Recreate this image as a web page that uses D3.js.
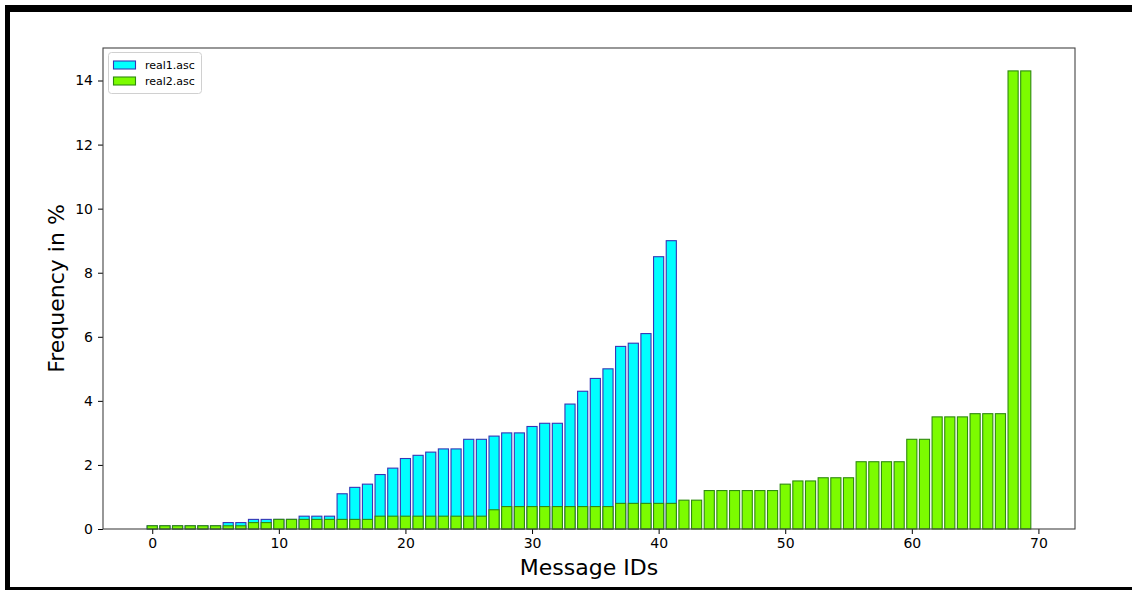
<!DOCTYPE html>
<html><head><meta charset="utf-8">
<script src="https://cdn.jsdelivr.net/npm/d3@7"></script>
<style>
html,body{margin:0;padding:0;background:#fff;}
svg{display:block;font-family:"DejaVu Sans",sans-serif;}
</style></head>
<body>
<svg id="chart" width="1132" height="590"></svg>
<script>
const real1Values = [0.1,0.1,0.1,0.1,0.1,0.1,0.2,0.2,0.3,0.3,0.3,0.3,0.4,0.4,0.4,1.1,1.3,1.4,1.7,1.9,2.2,2.3,2.4,2.5,2.5,2.8,2.8,2.9,3.0,3.0,3.2,3.3,3.3,3.9,4.3,4.7,5.0,5.7,5.8,6.1,8.5,9.0];
const real2Values = [0.1,0.1,0.1,0.1,0.1,0.1,0.1,0.1,0.2,0.2,0.3,0.3,0.3,0.3,0.3,0.3,0.3,0.3,0.4,0.4,0.4,0.4,0.4,0.4,0.4,0.4,0.4,0.6,0.7,0.7,0.7,0.7,0.7,0.7,0.7,0.7,0.7,0.8,0.8,0.8,0.8,0.8,0.9,0.9,1.2,1.2,1.2,1.2,1.2,1.2,1.4,1.5,1.5,1.6,1.6,1.6,2.1,2.1,2.1,2.1,2.8,2.8,3.5,3.5,3.5,3.6,3.6,3.6,14.3,14.3];
const seriesNames = ["real1.asc","real2.asc"];
const xTicks = [0,10,20,30,40,50,60,70];
const yTicks = [0,2,4,6,8,10,12,14];
const xLabel = "Message IDs";
const yLabel = "Frequency in %";

const svg = d3.select("#chart");
const W = 1132, H = 590;
const L = 103, R = 1075, T = 48, B = 529;

// frame bands
svg.append("rect").attr("x",5).attr("y",5).attr("width",W-5).attr("height",7).attr("fill","#000");
svg.append("rect").attr("x",5).attr("y",5).attr("width",5).attr("height",H-5).attr("fill","#000");
svg.append("rect").attr("x",5).attr("y",587).attr("width",W-5).attr("height",3).attr("fill","#000");

const barW = 0.8;
const n = real2Values.length;
const xmin = -barW/2, xmax = (n-1)+barW/2;
const xm = (xmax-xmin)*0.05;
const x = d3.scaleLinear().domain([xmin-xm, xmax+xm]).range([L,R]);
const ymax = d3.max(real1Values.concat(real2Values))*1.05;
const y = d3.scaleLinear().domain([0,ymax]).range([B,T]);

const series = [
  {name:seriesNames[0], values:real1Values, fill:"#00ffff", stroke:"#3535b5"},
  {name:seriesNames[1], values:real2Values, fill:"#7cfc00", stroke:"#2f8a10"}
];

series.forEach(s=>{
  svg.append("g").selectAll("rect").data(s.values).join("rect")
    .attr("x",(d,i)=>x(i-barW/2))
    .attr("width",(d,i)=>x(i+barW/2)-x(i-barW/2))
    .attr("y",d=>y(d))
    .attr("height",d=>y(0)-y(d))
    .attr("fill",s.fill).attr("stroke",s.stroke).attr("stroke-width",1.1);
});

// axes
const xAxis = d3.axisBottom(x).tickValues(xTicks).tickSize(5).tickPadding(4);
const gx = svg.append("g").attr("transform",`translate(0,${B})`).call(xAxis);
gx.select(".domain").remove();
gx.selectAll("text").attr("font-size",14).attr("font-family","DejaVu Sans").attr("fill","#000");
gx.selectAll("line").attr("stroke","#000").attr("stroke-width",1);

const yAxis = d3.axisLeft(y).tickValues(yTicks).tickSize(5).tickPadding(5);
const gy = svg.append("g").attr("transform",`translate(${L},0)`).call(yAxis);
gy.select(".domain").remove();
gy.selectAll("text").attr("font-size",14).attr("font-family","DejaVu Sans").attr("fill","#000");
gy.selectAll("line").attr("stroke","#000").attr("stroke-width",1);

// spines
svg.append("rect").attr("x",L).attr("y",T).attr("width",R-L).attr("height",B-T)
  .attr("fill","none").attr("stroke","#444").attr("stroke-width",1.1);

// labels
svg.append("text").attr("x",(L+R)/2).attr("y",575).attr("text-anchor","middle")
  .attr("font-size",22).attr("fill","#000").text(xLabel);
svg.append("text").attr("transform",`translate(64,${(T+B)/2}) rotate(-90)`).attr("text-anchor","middle")
  .attr("font-size",22).attr("fill","#000").text(yLabel);

// legend
const lg = svg.append("g");
lg.append("rect").attr("x",108.5).attr("y",52.5).attr("width",93).attr("height",41).attr("rx",3)
  .attr("fill","#fff").attr("fill-opacity",0.8).attr("stroke","#d0d0d0").attr("stroke-width",1);
series.forEach((s,i)=>{
  const cy = 65 + i*16;
  lg.append("rect").attr("x",113.5).attr("y",cy-4).attr("width",22).attr("height",8)
    .attr("fill",s.fill).attr("stroke",s.stroke).attr("stroke-width",1.1);
  lg.append("text").attr("x",145).attr("y",cy+4).attr("font-size",11).attr("fill","#000").text(s.name);
});
</script>
</body></html>
